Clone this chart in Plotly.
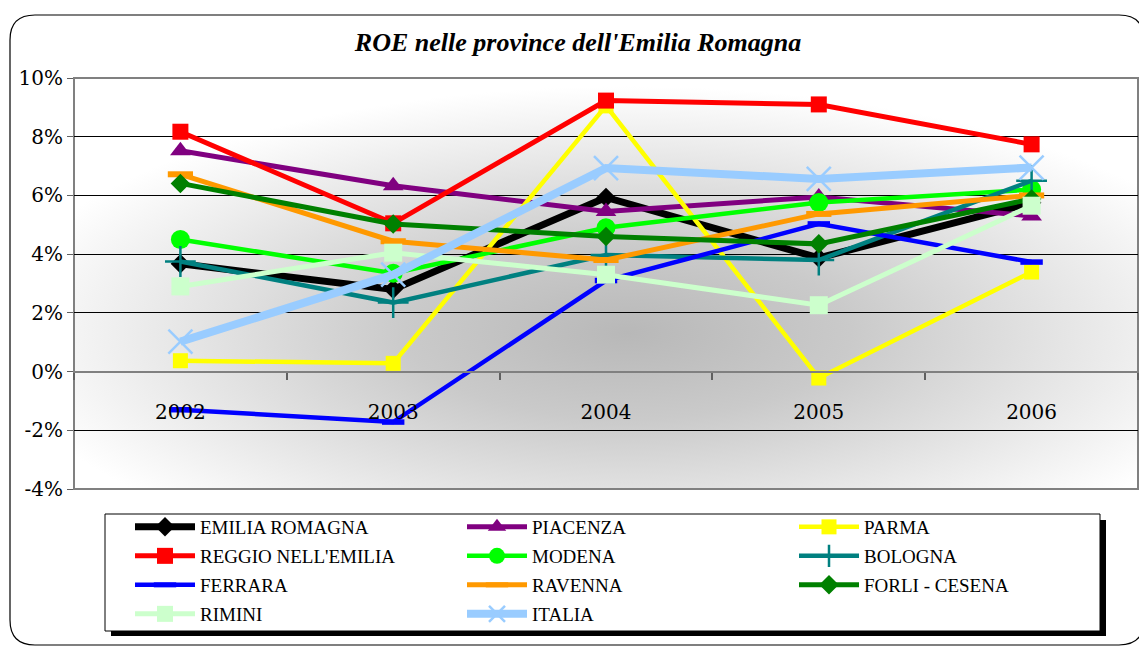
import plotly.graph_objects as go
import base64

# ---------------- data ----------------
years = ["2002", "2003", "2004", "2005", "2006"]

emilia_romagna = [3.67, 2.80, 5.93, 3.87, 5.75]
piacenza       = [7.52, 6.33, 5.45, 5.95, 5.30]
parma          = [0.37, 0.28, 9.05, -0.22, 3.39]
reggio_emilia  = [8.17, 5.05, 9.23, 9.10, 7.74]
modena         = [4.50, 3.35, 4.90, 5.76, 6.20]
bologna        = [3.75, 2.35, 3.97, 3.80, 6.50]
ferrara        = [-1.30, -1.72, 3.10, 5.03, 3.73]
ravenna        = [6.72, 4.44, 3.80, 5.37, 6.00]
forli_cesena   = [6.41, 5.03, 4.60, 4.35, 5.88]
rimini         = [2.90, 4.05, 3.30, 2.26, 5.65]
italia         = [1.02, 3.30, 6.93, 6.56, 6.95]

y_ticks = [-4, -2, 0, 2, 4, 6, 8, 10]
y_tick_labels = ["-4%", "-2%", "0%", "2%", "4%", "6%", "8%", "10%"]

series_names = ["EMILIA ROMAGNA", "PIACENZA", "PARMA",
                "REGGIO NELL'EMILIA", "MODENA", "BOLOGNA",
                "FERRARA", "RAVENNA", "FORLI - CESENA",
                "RIMINI", "ITALIA"]
series_values = [emilia_romagna, piacenza, parma, reggio_emilia, modena,
                 bologna, ferrara, ravenna, forli_cesena, rimini, italia]

# ---------------- styles ----------------
styles = [
    dict(color="#000000", width=7, symbol="diamond", size=15, open=False),
    dict(color="#800080", width=5, symbol="triangle-up", size=18, open=False),
    dict(color="#FFFF00", width=4.5, symbol="square", size=15, open=False),
    dict(color="#FF0000", width=5, symbol="square", size=16, open=False),
    dict(color="#00FF00", width=4.5, symbol="circle", size=19, open=False),
    dict(color="#008080", width=4.5, symbol="cross-thin", size=22, open=True),
    dict(color="#0000FF", width=4.5, symbol="line-ew", size=16, open=True),
    dict(color="#FF9900", width=5, symbol="line-ew", size=18, open=True),
    dict(color="#008000", width=5, symbol="diamond", size=15, open=False),
    dict(color="#CCFFCC", width=5, symbol="square", size=18, open=False),
    dict(color="#99CCFF", width=8, symbol="x-thin", size=24, open=True),
]

# The page body has an 8px margin; compensate so the figure lands where the
# reference has it.
OFF = 8
REF_W, REF_H = 1147, 647
W, H = REF_W - OFF, REF_H - OFF
L, R, T, B = 74, 1138, 78, 489   # plot area in reference pixels


def px(xp):
    return (xp - L) / (R - L)


def py(yp):
    return (B - yp) / (B - T)


fig = go.Figure()
legend_ids = ["legend", "legend2", "legend3"]
for i, (name, vals, st) in enumerate(zip(series_names, series_values, styles)):
    if st["open"]:
        marker = dict(symbol=st["symbol"], size=st["size"], color=st["color"],
                      line=dict(color=st["color"],
                                width=2.5 if "thin" in st["symbol"] else st["width"] + 1))
    else:
        marker = dict(symbol=st["symbol"], size=st["size"], color=st["color"],
                      line=dict(width=0))
    fig.add_trace(go.Scatter(
        x=years, y=vals, name=name, mode="lines+markers",
        line=dict(color=st["color"], width=st["width"]),
        marker=marker,
        legend=legend_ids[i % 3],
        legendgroup=f"g{i}",
        hoverinfo="x+y+name",
    ))

# radial gradient background for plot area
svg = ('<svg xmlns="http://www.w3.org/2000/svg" width="1064" height="411" '
       'viewBox="0 0 1064 411" preserveAspectRatio="none"><defs>'
       '<radialGradient id="g" cx="0.52" cy="0.62" r="0.6">'
       '<stop offset="0" stop-color="#b8b8b8"/>'
       '<stop offset="0.35" stop-color="#cacaca"/>'
       '<stop offset="1" stop-color="#ffffff"/>'
       '</radialGradient></defs>'
       '<rect width="1064" height="411" fill="url(#g)"/></svg>')
src = "data:image/svg+xml;base64," + base64.b64encode(svg.encode()).decode()

legend_font = dict(family="Liberation Serif", size=19, color="black")
legend_common = dict(orientation="v", xanchor="left", yanchor="top",
                     bgcolor="rgba(0,0,0,0)", borderwidth=0, itemwidth=60,
                     tracegroupgap=1.3, font=legend_font, traceorder="grouped",
                     itemclick=False, itemdoubleclick=False)

# rounded outer frame (reference pixels)
x0, y0, x1, y1, rr = 10, 15, 1144, 645, 25
frame_path = (
    f"M {px(x0)},{py(y0 + rr)} "
    f"Q {px(x0)},{py(y0)} {px(x0 + rr)},{py(y0)} "
    f"L {px(x1 - rr)},{py(y0)} "
    f"Q {px(x1)},{py(y0)} {px(x1)},{py(y0 + rr)} "
    f"L {px(x1)},{py(y1 - rr)} "
    f"Q {px(x1)},{py(y1)} {px(x1 - rr)},{py(y1)} "
    f"L {px(x0 + rr)},{py(y1)} "
    f"Q {px(x0)},{py(y1)} {px(x0)},{py(y1 - rr)} Z"
)

shapes = [
    dict(type="path", xref="paper", yref="paper", path=frame_path,
         line=dict(color="black", width=1.2), fillcolor="rgba(0,0,0,0)", layer="below"),
    # plot-area frame
    dict(type="rect", xref="paper", yref="paper", x0=0, y0=0, x1=1, y1=1,
         line=dict(color="#808080", width=2), fillcolor="rgba(0,0,0,0)", layer="below"),
    # legend shadow + box
    dict(type="rect", xref="paper", yref="paper",
         x0=px(111), x1=px(1106), y0=py(520), y1=py(636),
         line=dict(width=0), fillcolor="black", layer="above"),
    dict(type="rect", xref="paper", yref="paper",
         x0=px(105), x1=px(1100), y0=py(514), y1=py(631),
         line=dict(color="black", width=1), fillcolor="white", layer="above"),
]

fig.update_layout(
    width=W, height=H,
    margin=dict(l=L - OFF, r=REF_W - R, t=T - OFF, b=REF_H - B, pad=0),
    paper_bgcolor="white",
    plot_bgcolor="rgba(0,0,0,0)",
    font=dict(family="DejaVu Serif", color="black"),
    title=dict(text="<b><i>ROE nelle province dell'Emilia Romagna</i></b>",
               x=(578 - OFF) / W, xref="container", xanchor="center",
               y=1 - (42 - OFF) / H, yref="container", yanchor="middle",
               font=dict(family="Liberation Serif", size=26, color="black")),
    xaxis=dict(type="category", anchor="free", position=4 / 14,
               range=[-0.5, len(years) - 0.5], autorange=False,
               showline=True, linecolor="#808080", linewidth=2,
               ticks="outside", ticklen=7, tickcolor="#606060", tickwidth=1.5,
               tickson="boundaries", showgrid=False, zeroline=False,
               ticklabelstandoff=22,
               tickfont=dict(family="DejaVu Serif", size=20, color="black")),
    yaxis=dict(range=[-4, 10], autorange=False, tickmode="array",
               tickvals=y_ticks, ticktext=y_tick_labels,
               showgrid=True, gridcolor="black", gridwidth=1,
               zeroline=False, showline=False,
               ticks="outside", ticklen=6, tickcolor="#606060",
               tickfont=dict(family="DejaVu Serif", size=20, color="black")),
    legend=dict(x=px(130), y=py(508), **legend_common),
    legend2=dict(x=px(462), y=py(508), **legend_common),
    legend3=dict(x=px(794), y=py(508), **legend_common),
    images=[dict(source=src, xref="paper", yref="paper", x=0, y=1, sizex=1, sizey=1,
                 xanchor="left", yanchor="top", sizing="stretch", layer="below")],
    shapes=shapes,
    showlegend=True,
)

fig.write_html("out.html")
